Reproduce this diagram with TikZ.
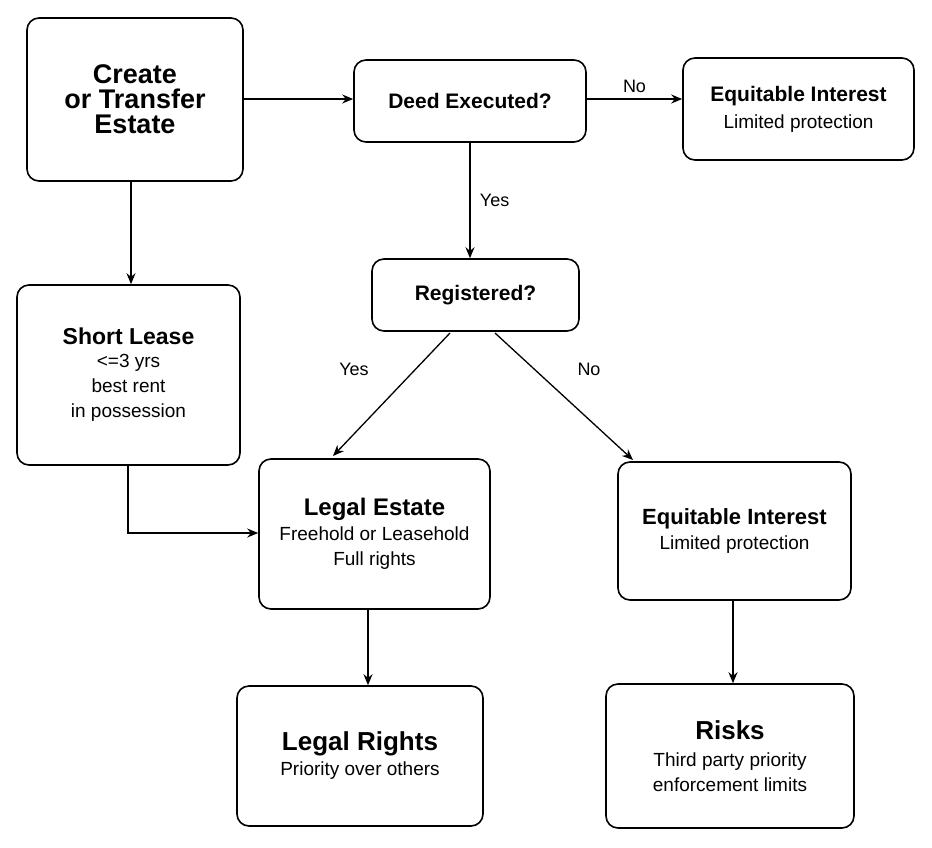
\documentclass[tikz,border=0pt]{standalone}
\usepackage{fontspec}
\setmainfont{Liberation Sans}
\usetikzlibrary{arrows.meta,calc}
\begin{document}
\begin{tikzpicture}[x=1pt,y=-1pt,
  box/.style={draw,line width=1.6pt,rounded corners=12pt,align=center,inner sep=0pt,font=\fontsize{19}{25}\selectfont},
  arr/.style={-{Stealth[length=11pt,width=9pt]},line width=1.3pt},
  lbl/.style={font=\fontsize{18}{20}\selectfont},
  tt/.style={font=\fontsize{22}{28}\selectfont\bfseries}]
\useasboundingbox (0,0) rectangle (932,847);
\fill[white] (0,0) rectangle (932,847);
\newcommand{\mybox}[6]{\node[box,minimum width=#4-#2,minimum height=#5-#3] (#1) at ({(#2+#4)/2},{(#3+#5)/2}) {#6};}
\mybox{create}{27}{18}{243}{181}{\fontsize{27}{36}\selectfont\bfseries Create\\\fontsize{27}{36}\selectfont\bfseries or Transfer\\\fontsize{27}{36}\selectfont\bfseries Estate}
\mybox{deed}{354}{60}{586}{142}{\fontsize{21}{26}\selectfont\bfseries Deed Executed?}
\mybox{eqt}{683}{58}{914}{160}{\fontsize{21}{28}\selectfont\bfseries Equitable Interest\\[2pt] Limited protection}
\mybox{reg}{372}{259}{579}{331}{\fontsize{21}{26}\selectfont\bfseries Registered?}
\mybox{short}{17}{285}{240}{465}{\fontsize{23}{34}\selectfont\bfseries Short Lease\\[-2pt] {\textless}=3 yrs\\ best rent\\ in possession}
\mybox{legal}{259}{459}{490}{609}{\fontsize{24}{36}\selectfont\bfseries Legal Estate\\ Freehold or Leasehold\\ Full rights}
\mybox{eqm}{618}{462}{851}{600}{\fontsize{22}{38}\selectfont\bfseries Equitable Interest\\ Limited protection}
\mybox{rights}{237}{686}{483}{826}{\fontsize{26}{40}\selectfont\bfseries Legal Rights\\ Priority over others}
\mybox{risks}{606}{684}{854}{828}{\fontsize{26}{36}\selectfont\bfseries Risks\\[2pt] Third party priority\\ enforcement limits}
\draw[arr] (create.east |- 0,99) -- (deed.west |- 0,99);
\draw[arr] (deed.east |- 0,99) -- node[lbl,above=2pt]{No} (eqt.west |- 0,99);
\draw[arr] (deed.south -| 470,0) -- node[lbl,right=6pt]{Yes} (reg.north -| 470,0);
\draw[arr] (create.south -| 131,0) -- (short.north -| 131,0);
\coordinate (r1) at (450,333); \coordinate (r2) at (495,333);
\draw[arr] (r1) -- (333,456);
\draw[arr] (r2) -- (633,460);
\node[lbl] at (354,369) {Yes};
\node[lbl] at (589,369) {No};
\draw[arr] (short.south -| 128,0) -- (128,533) -- (legal.west |- 0,533);
\draw[arr] (legal.south -| 368,0) -- (rights.north -| 368,0);
\draw[arr] (eqm.south -| 733,0) -- (risks.north -| 733,0);
\end{tikzpicture}
\end{document}
